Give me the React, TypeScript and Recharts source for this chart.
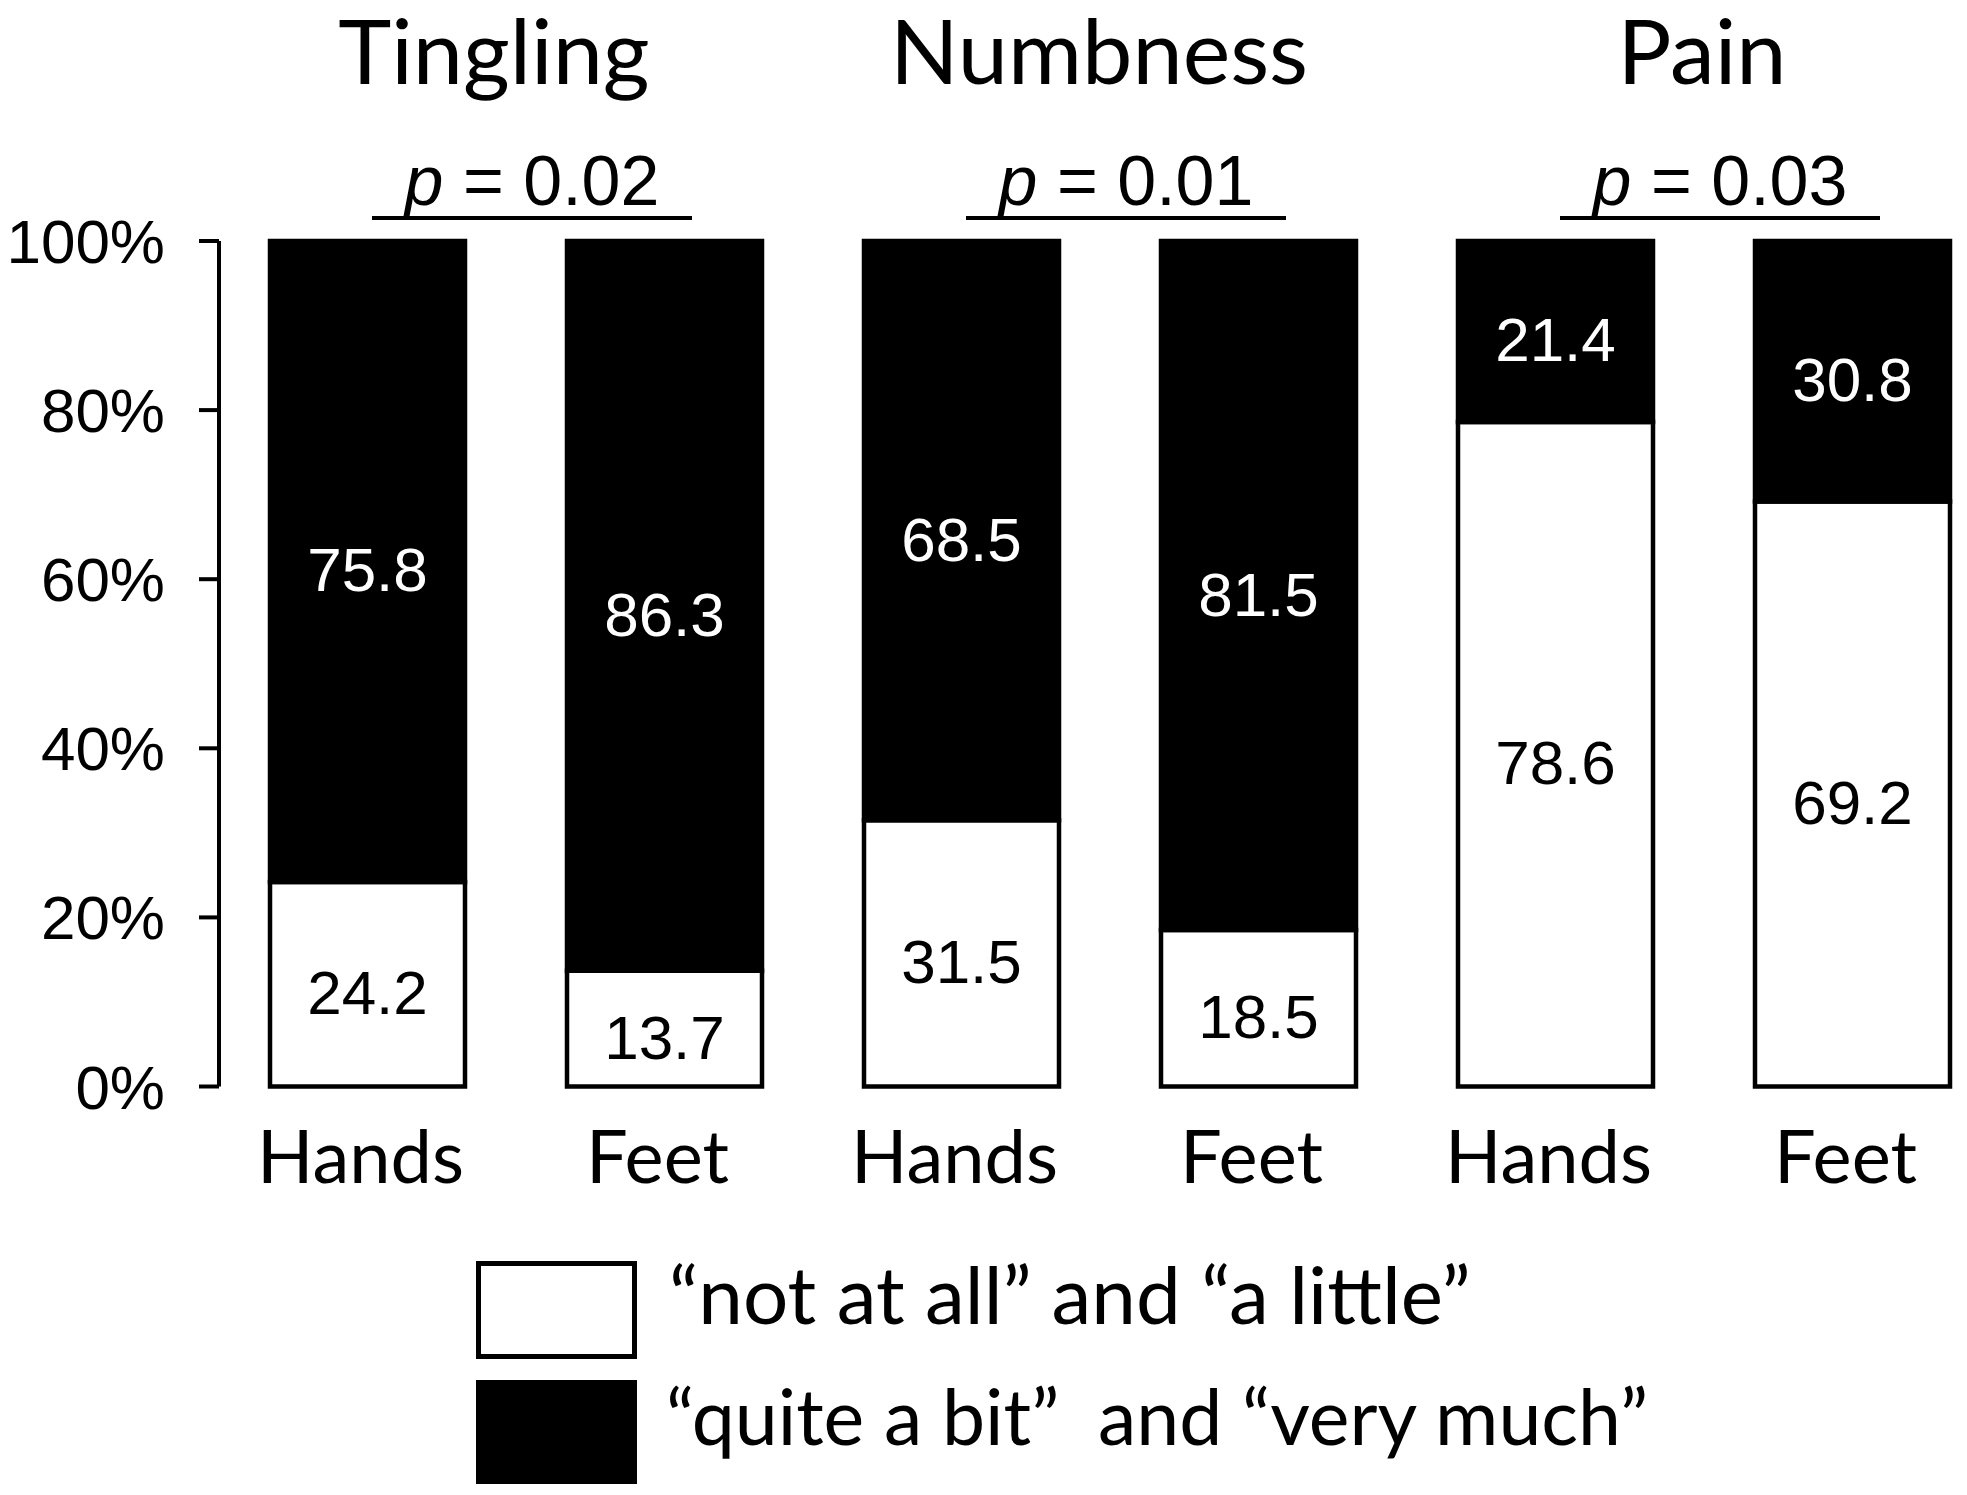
import { Bar, BarChart, LabelList, Legend, XAxis, YAxis } from 'recharts';

const GROUPS = ['Tingling', 'Numbness', 'Pain'];
const SITES = ['Hands', 'Feet'];
// share of patients (%) per group/site, in order Tingling H/F, Numbness H/F, Pain H/F
const LOW_SHARE = [24.2, 13.7, 31.5, 18.5, 78.6, 69.2];
const HIGH_SHARE = [75.8, 86.3, 68.5, 81.5, 21.4, 30.8];
const P_VALUES = ['0.02', '0.01', '0.03'];
const Y_TICKS = [0, 20, 40, 60, 80, 100];
const LOW_NAME = '“not at all” and “a little”';
const HIGH_NAME = '“quite a bit”\u00a0 and “very much”';

const rows = LOW_SHARE.map((low, i) => ({
  group: GROUPS[Math.floor(i / SITES.length)],
  site: SITES[i % SITES.length],
  low,
  high: HIGH_SHARE[i]
}));

const TEXT_FONT = 'Lato, "Noto Sans", sans-serif';
const NUM_FONT = '"Liberation Sans", Arial, sans-serif';
// small hand nudges of the group titles, like the hand-placed text boxes in the original
const TITLE_NUDGE = [-22, -11, -2];

function GroupTick({ x, y, payload }: any) {
  const i = GROUPS.indexOf(payload.value);
  return (
    <g>
      <text x={x + TITLE_NUDGE[i]} y={y - 157} textAnchor="middle" fontSize={90} fontFamily={TEXT_FONT} fill="#000">
        {payload.value}
      </text>
      <text x={x + 16} y={y - 36} textAnchor="middle" fontSize={70} fontFamily={NUM_FONT} fill="#000">
        <tspan fontStyle="italic">p</tspan> = {P_VALUES[i]}
      </text>
      <line x1={x + 16 - 160} x2={x + 16 + 160} y1={y - 23} y2={y - 23} stroke="#000" strokeWidth={4} />
    </g>
  );
}

function SiteTick({ x, y, payload }: any) {
  return (
    <text x={x - 7} y={y + 96} textAnchor="middle" fontSize={74} fontFamily={TEXT_FONT} fill="#000">
      {payload.value}
    </text>
  );
}

function segmentLabel(color: string) {
  return (props: any) => {
    const box = props.viewBox ?? props;
    const { x, y, width, height } = box;
    return (
      <text
        x={x + width / 2}
        y={y + height / 2 + 30}
        textAnchor="middle"
        fontSize={62}
        fontFamily={NUM_FONT}
        fill={color}
      >
        {Number(props.value).toFixed(1)}
      </text>
    );
  };
}

function LegendBoxes({ payload }: any) {
  const items = payload ?? [];
  const low = items.find((e: any) => e.dataKey === 'low');
  const high = items.find((e: any) => e.dataKey === 'high');
  return (
    <svg width={1300} height={228} style={{ display: 'block' }}>
      <rect x={2.5} y={2.5} width={156} height={93} fill="#fff" stroke="#000" strokeWidth={5} />
      <text x={193} y={63} fontSize={80} fontFamily={TEXT_FONT} fill="#000">
        {low?.value ?? LOW_NAME}
      </text>
      <rect x={0} y={119} width={161} height={104} fill="#000" />
      <text x={190} y={184} fontSize={77} fontFamily={TEXT_FONT} fill="#000">
        {high?.value ?? HIGH_NAME}
      </text>
    </svg>
  );
}

export default function App() {
  return (
    <div
      style={{
        position: 'absolute',
        left: 0,
        top: 0,
        width: 1967,
        height: 1495,
        overflow: 'hidden',
        background: '#fff'
      }}
    >
      <BarChart
        width={2040}
        height={1495}
        data={rows}
        margin={{ top: 201, right: 39, bottom: 348.5, left: 0 }}
      >
        <XAxis
          xAxisId="top"
          orientation="top"
          dataKey="group"
          allowDuplicatedCategory={false}
          height={40}
          axisLine={false}
          tickLine={false}
          tickSize={0}
          tickMargin={0}
          interval={0}
          tick={<GroupTick />}
        />
        <XAxis
          dataKey="site"
          height={60}
          axisLine={false}
          tickLine={false}
          tickSize={0}
          tickMargin={0}
          interval={0}
          tick={<SiteTick />}
        />
        <YAxis
          width={219}
          domain={[0, 100]}
          ticks={Y_TICKS}
          tickFormatter={(v) => `${v}%`}
          stroke="#000"
          strokeWidth={4}
          tickSize={20}
          tickMargin={34}
          tick={{ fill: '#000', fontSize: 62, fontFamily: NUM_FONT }}
        />
        <Legend
          layout="horizontal"
          verticalAlign="middle"
          align="center"
          content={<LegendBoxes />}
          wrapperStyle={{ position: 'absolute', left: 476, top: 1261, width: 1300, height: 228 }}
        />
        <Bar
          dataKey="low"
          name={LOW_NAME}
          stackId="share"
          barSize={195}
          fill="#fff"
          stroke="#000"
          strokeWidth={4.5}
          isAnimationActive={false}
        >
          <LabelList dataKey="low" content={segmentLabel('#000')} />
        </Bar>
        <Bar
          dataKey="high"
          name={HIGH_NAME}
          stackId="share"
          barSize={195}
          fill="#000"
          stroke="#000"
          strokeWidth={4.5}
          isAnimationActive={false}
        >
          <LabelList dataKey="high" content={segmentLabel('#fff')} />
        </Bar>
      </BarChart>
    </div>
  );
}
